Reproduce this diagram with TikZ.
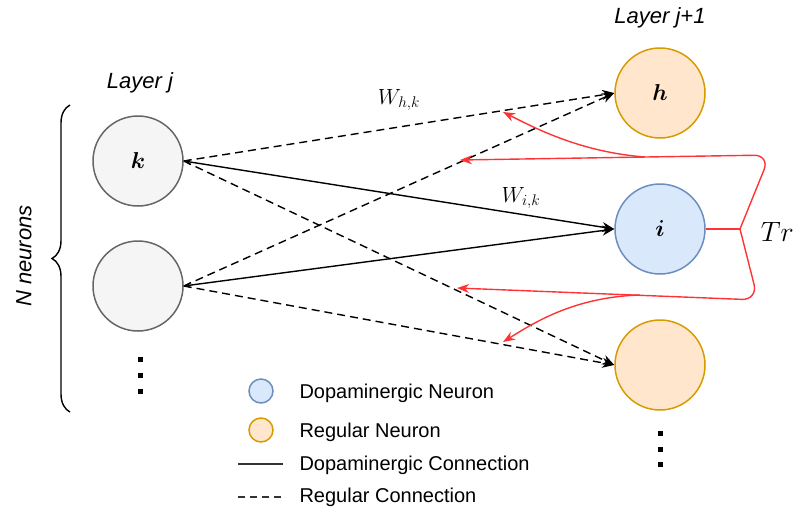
\RequirePackage{fix-cm}
\documentclass[tikz,border=0pt]{standalone}
\usepackage{amsmath}
\usepackage{bm}
\usepackage{fontspec}
\setsansfont{Liberation Sans}
\usetikzlibrary{arrows.meta, decorations.pathreplacing}

\definecolor{idlefill}{HTML}{F5F5F5}
\definecolor{idleline}{HTML}{666666}
\definecolor{dopafill}{HTML}{DAE8FC}
\definecolor{dopaline}{HTML}{6C8EBF}
\definecolor{regfill}{HTML}{FFE6CC}
\definecolor{regline}{HTML}{D79B00}
\definecolor{trred}{HTML}{FF3333}

\begin{document}
\begin{tikzpicture}[x=1pt, y=-1pt, node distance=136pt]
\tikzstyle{idle} = [circle, minimum size=90pt, inner sep=0pt, draw=idleline, fill=idlefill, line width=1.5pt, font=\fontsize{23}{27}\selectfont]
\tikzstyle{dopa} = [circle, minimum size=90pt, inner sep=0pt, draw=dopaline, fill=dopafill, line width=1.5pt, font=\fontsize{23}{27}\selectfont]
\tikzstyle{reg} = [circle, minimum size=90pt, inner sep=0pt, draw=regline, fill=regfill, line width=1.5pt, font=\fontsize{23}{27}\selectfont]
\tikzstyle{layer} = [font=\sffamily\itshape\fontsize{22}{26}\selectfont]
\tikzstyle{weight} = [font=\fontsize{22}{26}\selectfont]
\tikzstyle{legend} = [anchor=west, font=\sffamily\fontsize{20}{24}\selectfont]

\tikzstyle{arrow} = [line width=1.4pt, {Stealth[length=7pt,width=6pt]}-{Stealth[length=12pt,width=10pt]}]
\tikzstyle{dasharrow} = [line width=1.4pt, dash pattern=on 8pt off 5pt, -{Stealth[length=12pt,width=10pt]}]
\tikzstyle{trline} = [line width=1.4pt, draw=trred]
\tikzstyle{trarrow} = [trline, -{Stealth[length=12pt,width=9pt]}]

\useasboundingbox (0,0) rectangle (795,515);

% layer j
\node (k) [idle] at (138,161) {$\bm{k}$};
\node (m) [idle, below of=k, yshift=11pt] {};
\node (lj) [layer] at (140,83) {Layer j};
\node (nn) [layer, rotate=90] at (24,256) {N neurons};
\draw [decorate, decoration={brace, amplitude=18pt}, line width=1.4pt] (70,412) -- (70,105);
\foreach \y in {359,375,391}
  \fill (137.5,\y-2.5) rectangle +(5,5);

% layer j+1
\node (h) [reg] at (660,93) {$\bm{h}$};
\node (i) [dopa, below of=h] {$\bm{i}$};
\node (r) [reg, below of=i] {};
\node (lj1) [layer] at (660,18) {Layer j+1};
\foreach \y in {433,449,464}
  \fill (657.5,\y-2.5) rectangle +(5,5);

% connections
\draw [dasharrow] (k.east) -- (h.west);
\draw [dasharrow] (k.east) -- (r.west);
\draw [dasharrow] (m.east) -- (h.west);
\draw [dasharrow] (m.east) -- (r.west);
\draw [arrow] (k.east) -- (i.west);
\draw [arrow] (m.east) -- (i.west);
\node (whk) [weight] at (399,100) {$W_{h,k}$};
\node (wik) [weight] at (521,198) {$W_{i,k}$};

% trace
\coordinate (jn) at (740,229);
\coordinate (tc) at (770,155);
\coordinate (bc) at (758,300);
\coordinate (ta) at (460,160);
\coordinate (tb) at (503,112);
\coordinate (ba) at (457,288);
\coordinate (bb) at (503,342);
\coordinate (ts) at (645,157);
\coordinate (bs) at (640,295);
\draw [trline] (i.east) -- (jn);
\draw [trarrow, rounded corners=16pt] (jn) -- (tc) -- (ta);
\draw [trarrow] (ts) .. controls (580,152) and (535,128) .. (tb);
\draw [trarrow, rounded corners=16pt] (jn) -- (bc) -- (ba);
\draw [trarrow] (bs) .. controls (575,297) and (535,322) .. (bb);
\node (tr) [font=\fontsize{28}{32}\selectfont, anchor=east, inner sep=1pt] at (795,232) {$Tr$};

% legend
\node (lgd1) [dopa, minimum size=24pt] at (261,391) {};
\node (lgd2) [reg, minimum size=24pt] at (261,430) {};
\coordinate (la) at (238,464);
\coordinate (lb) at (283,464);
\coordinate (lc) at (238,497);
\coordinate (ld) at (283,497);
\draw [line width=1.4pt, draw=black!80] (la) -- (lb);
\draw [line width=1.4pt, draw=black!80, dash pattern=on 7pt off 5pt] (lc) -- (ld);
\node (lt1) [legend] at (296,393) {Dopaminergic Neuron};
\node (lt2) [legend] at (296,432) {Regular Neuron};
\node (lt3) [legend] at (296,465) {Dopaminergic Connection};
\node (lt4) [legend] at (296,497) {Regular Connection};

\end{tikzpicture}
\end{document}
